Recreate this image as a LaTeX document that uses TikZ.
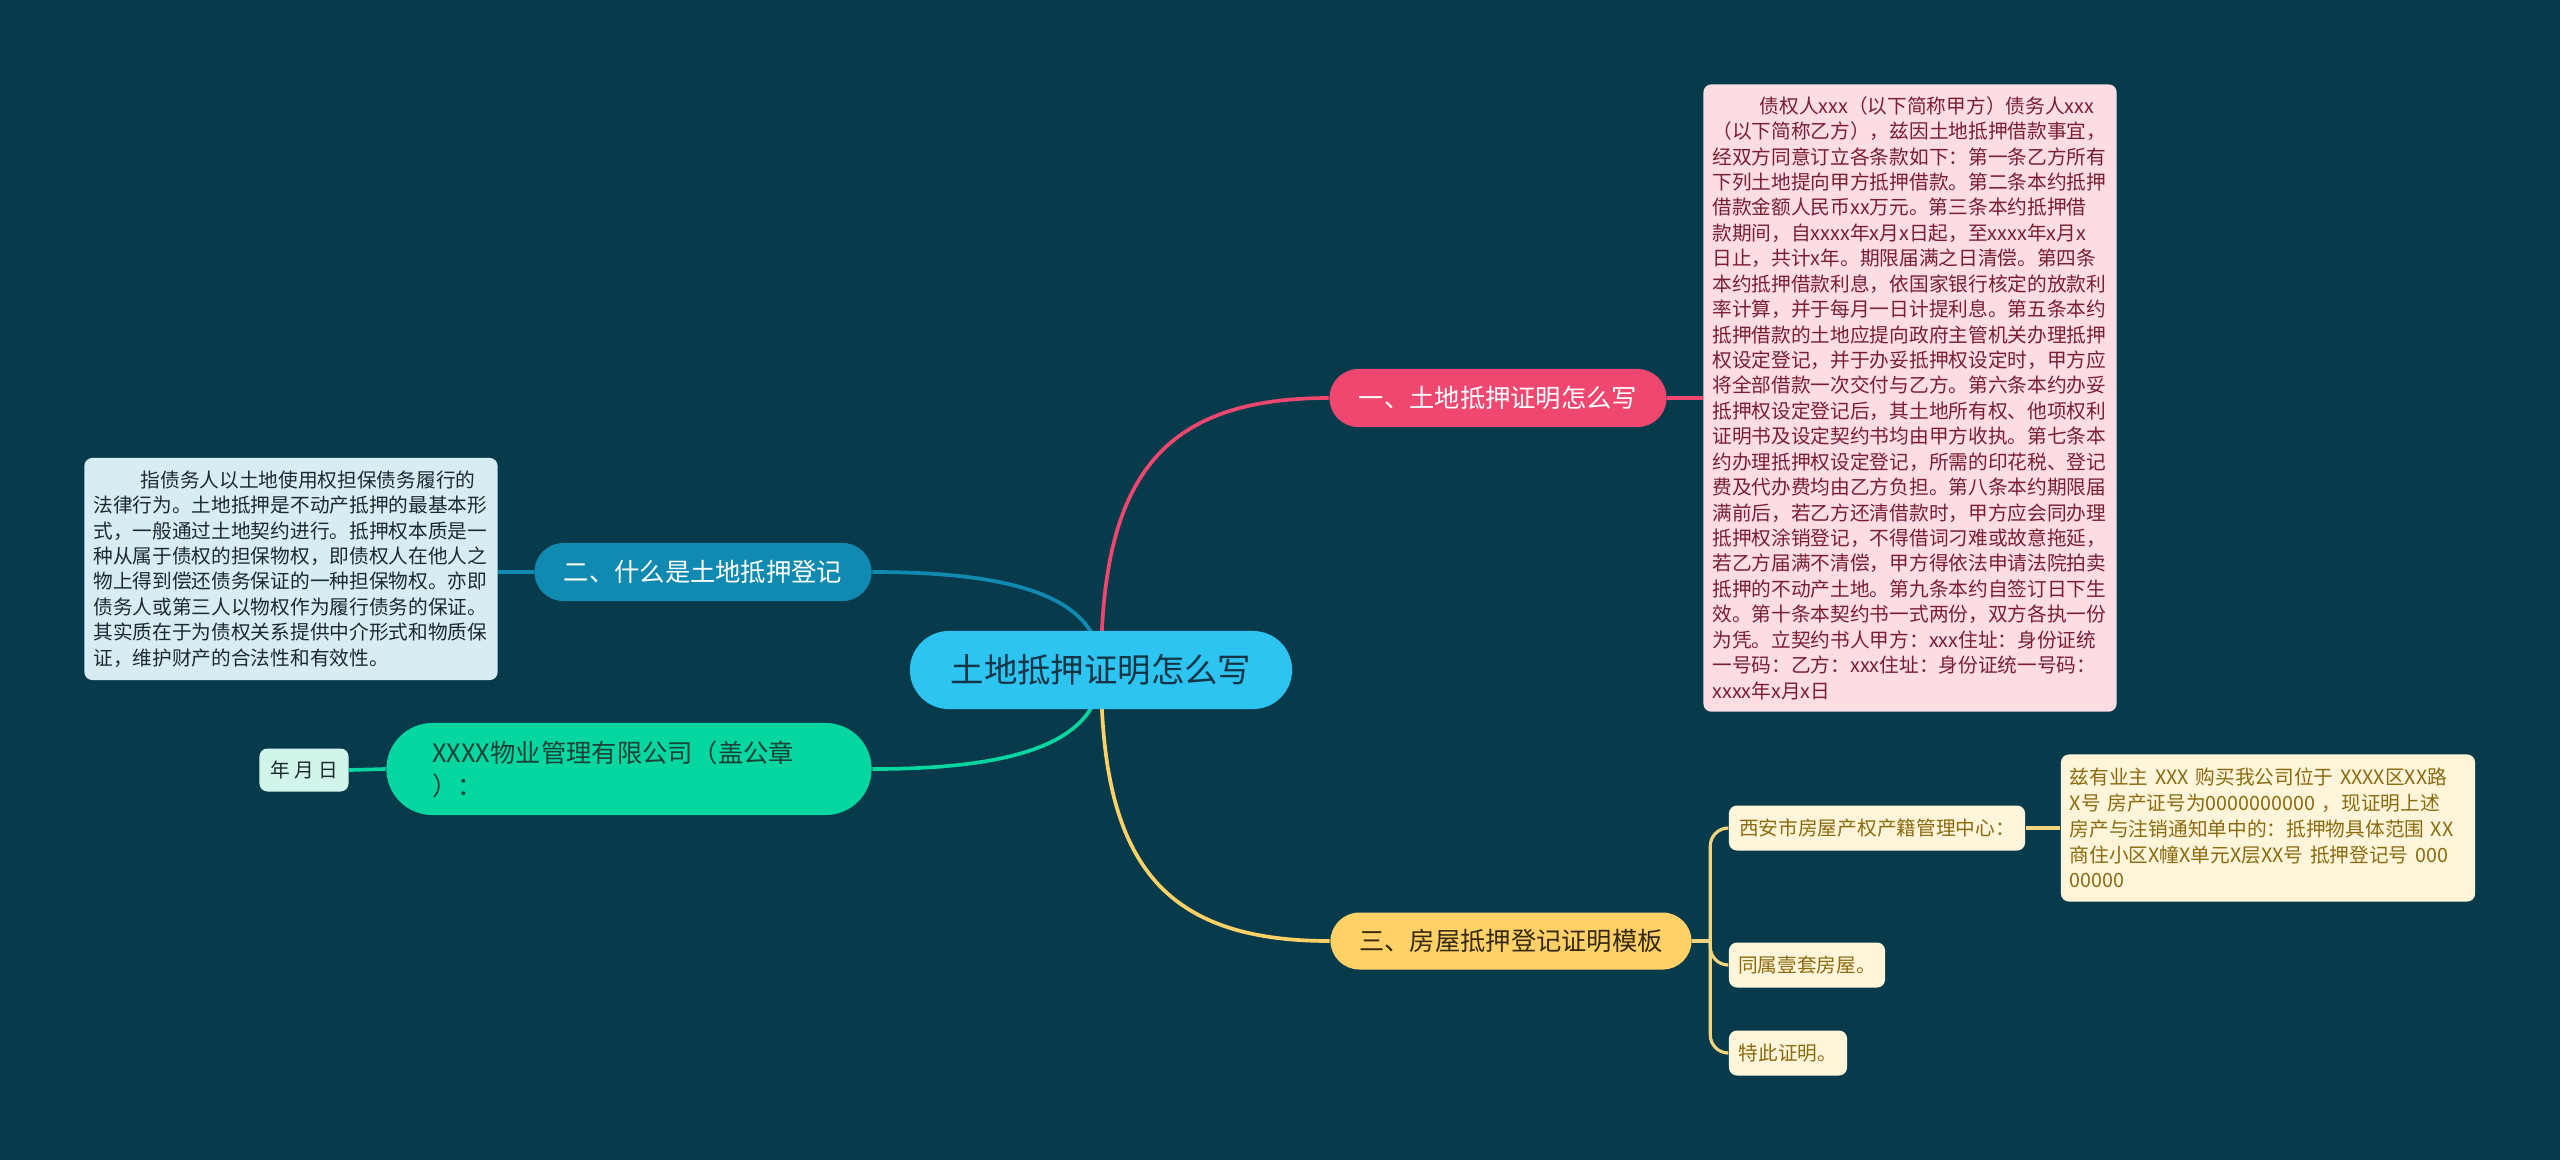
\documentclass[tikz,border=0pt]{standalone}
\usepackage{fontspec}
\setmainfont{Noto Sans CJK SC}
\usetikzlibrary{calc}

\definecolor{bgc}{HTML}{073B4C}
\definecolor{rootc}{HTML}{2EC4F2}
\definecolor{roottxt}{HTML}{123545}
\definecolor{pinkc}{HTML}{EF476F}
\definecolor{bluec}{HTML}{118AB2}
\definecolor{greenc}{HTML}{06D6A0}
\definecolor{greentxt}{HTML}{1B4036}
\definecolor{yellowc}{HTML}{FFD166}
\definecolor{yellowtxt}{HTML}{33290F}
\definecolor{pinkbox}{HTML}{FCDDE4}
\definecolor{pinkboxtxt}{HTML}{7A1F33}
\definecolor{bluebox}{HTML}{D8EDF3}
\definecolor{blueboxtxt}{HTML}{1B2A30}
\definecolor{greenbox}{HTML}{D2F5EB}
\definecolor{yelbox}{HTML}{FFF5DA}
\definecolor{yelboxtxt}{HTML}{8B6B10}
\definecolor{twigc}{HTML}{F3D57F}

\pgfdeclarelayer{bg}
\pgfdeclarelayer{links}
\pgfsetlayers{bg,links,main}

\tikzset{
  rootnode/.style={fill=rootc, text=roottxt, rounded corners=0.39cm,
    minimum width=3.82cm, minimum height=0.78cm, inner sep=0pt,
    font=\fontsize{9.5}{11}\selectfont},
  topic/.style={rounded corners=0.29cm, minimum height=0.58cm, inner sep=0pt,
    font=\fontsize{7.2}{9.4}\selectfont},
  memo/.style={rounded corners=0.08cm, inner xsep=0.09cm, inner ysep=0pt,
    align=left, font=\fontsize{5.6}{7.23}\selectfont},
  leaf/.style={memo, fill=yelbox, text=yelboxtxt, minimum height=0.45cm},
  link/.style={line width=1.05pt},
  twig/.style={line width=0.9pt, twigc, rounded corners=0.18cm},
}

\begin{document}
\begin{tikzpicture}[x=0.01cm, y=-0.01cm]
  \begin{pgfonlayer}{bg}
    \fill[bgc] (0,0) rectangle (2560,1160);
  \end{pgfonlayer}

  \node[rootnode] (root) at (1101,670) {土地抵押证明怎么写};

  \node[topic, fill=pinkc, text=white, minimum width=3.37cm] (one) at (1498,398) {一、土地抵押证明怎么写};
  \node[topic, fill=bluec, text=white, minimum width=3.37cm] (two) at (703,572) {二、什么是土地抵押登记};
  \node[topic, fill=yellowc, text=yellowtxt, minimum width=3.61cm, minimum height=0.57cm] (three) at (1511,941) {三、房屋抵押登记证明模板};
  \node[topic, fill=greenc, text=greentxt, rounded corners=0.46cm, minimum height=0.92cm,
    inner xsep=0.46cm, text width=3.93cm, align=left] (seal) at (629,769) {XXXX物业管理有限公司（盖公章\\）：};

  \node[memo, fill=pinkbox, text=pinkboxtxt, text width=3.95cm, minimum height=6.27cm] (contract) at (1910,398) {%
\hspace*{2.4em}债权人xxx（以下简称甲方）债务人xxx\\
（以下简称乙方），兹因土地抵押借款事宜，\\
经双方同意订立各条款如下：第一条乙方所有\\
下列土地提向甲方抵押借款。第二条本约抵押\\
借款金额人民币xx万元。第三条本约抵押借\\
款期间，自xxxx年x月x日起，至xxxx年x月x\\
日止，共计x年。期限届满之日清偿。第四条\\
本约抵押借款利息，依国家银行核定的放款利\\
率计算，并于每月一日计提利息。第五条本约\\
抵押借款的土地应提向政府主管机关办理抵押\\
权设定登记，并于办妥抵押权设定时，甲方应\\
将全部借款一次交付与乙方。第六条本约办妥\\
抵押权设定登记后，其土地所有权、他项权利\\
证明书及设定契约书均由甲方收执。第七条本\\
约办理抵押权设定登记，所需的印花税、登记\\
费及代办费均由乙方负担。第八条本约期限届\\
满前后，若乙方还清借款时，甲方应会同办理\\
抵押权涂销登记，不得借词刁难或故意拖延，\\
若乙方届满不清偿，甲方得依法申请法院拍卖\\
抵押的不动产土地。第九条本约自签订日下生\\
效。第十条本契约书一式两份，双方各执一份\\
为凭。立契约书人甲方：xxx住址：身份证统\\
一号码：乙方：xxx住址：身份证统一号码：\\
xxxx年x月x日};

  \node[memo, fill=bluebox, text=blueboxtxt, text width=3.95cm, minimum height=2.22cm] (meaning) at (291,569) {%
\hspace*{2.4em}指债务人以土地使用权担保债务履行的\\
法律行为。土地抵押是不动产抵押的最基本形\\
式，一般通过土地契约进行。抵押权本质是一\\
种从属于债权的担保物权，即债权人在他人之\\
物上得到偿还债务保证的一种担保物权。亦即\\
债务人或第三人以物权作为履行债务的保证。\\
其实质在于为债权关系提供中介形式和物质保\\
证，维护财产的合法性和有效性。};

  \node[memo, fill=greenbox, text=blueboxtxt, align=center, minimum width=0.89cm, minimum height=0.43cm] (date) at (304,770) {年 月 日};

  \node[leaf, minimum width=2.96cm] (office) at (1877,828) {西安市房屋产权产籍管理中心：};
  \node[leaf, text width=3.96cm, minimum height=1.47cm, font=\fontsize{5.6}{7.35}\selectfont] (detail) at (2268,828) {%
兹有业主 XXX 购买我公司位于 XXXX区XX路\\
X号 房产证号为0000000000 ，现证明上述\\
房产与注销通知单中的：抵押物具体范围 XX\\
商住小区X幢X单元X层XX号 抵押登记号 000\\
00000};
  \node[leaf, minimum width=1.56cm] (same) at (1807,965) {同属壹套房屋。};
  \node[leaf, minimum width=1.18cm] (hereby) at (1788,1053) {特此证明。};

  \path (three.east) ++(18,0) coordinate (fork);

  \begin{pgfonlayer}{links}
    \draw[link, pinkc] (root.center) .. controls +(0,-190) and +(-170,0) .. (one.west);
    \draw[link, bluec] (root.center) .. controls +(0,-70) and +(150,0) .. (two.east);
    \draw[link, greenc] (root.center) .. controls +(0,70) and +(150,0) .. (seal.east);
    \draw[link, yellowc] (root.center) .. controls +(0,190) and +(-170,0) .. (three.west);
    \draw[link, pinkc] (one.east) -- (contract.west |- one.east);
    \draw[link, bluec] (two.west) -- (meaning.east |- two.west);
    \draw[link, greenc] (seal.west) -- (date.east);
    \draw[twig] (three.east) -- (fork);
    \foreach \tip in {office,same,hereby} {
      \draw[twig] (fork) |- (\tip.west);
    }
    \draw[twig] (office.east) -- (detail.west);
  \end{pgfonlayer}
\end{tikzpicture}
\end{document}
